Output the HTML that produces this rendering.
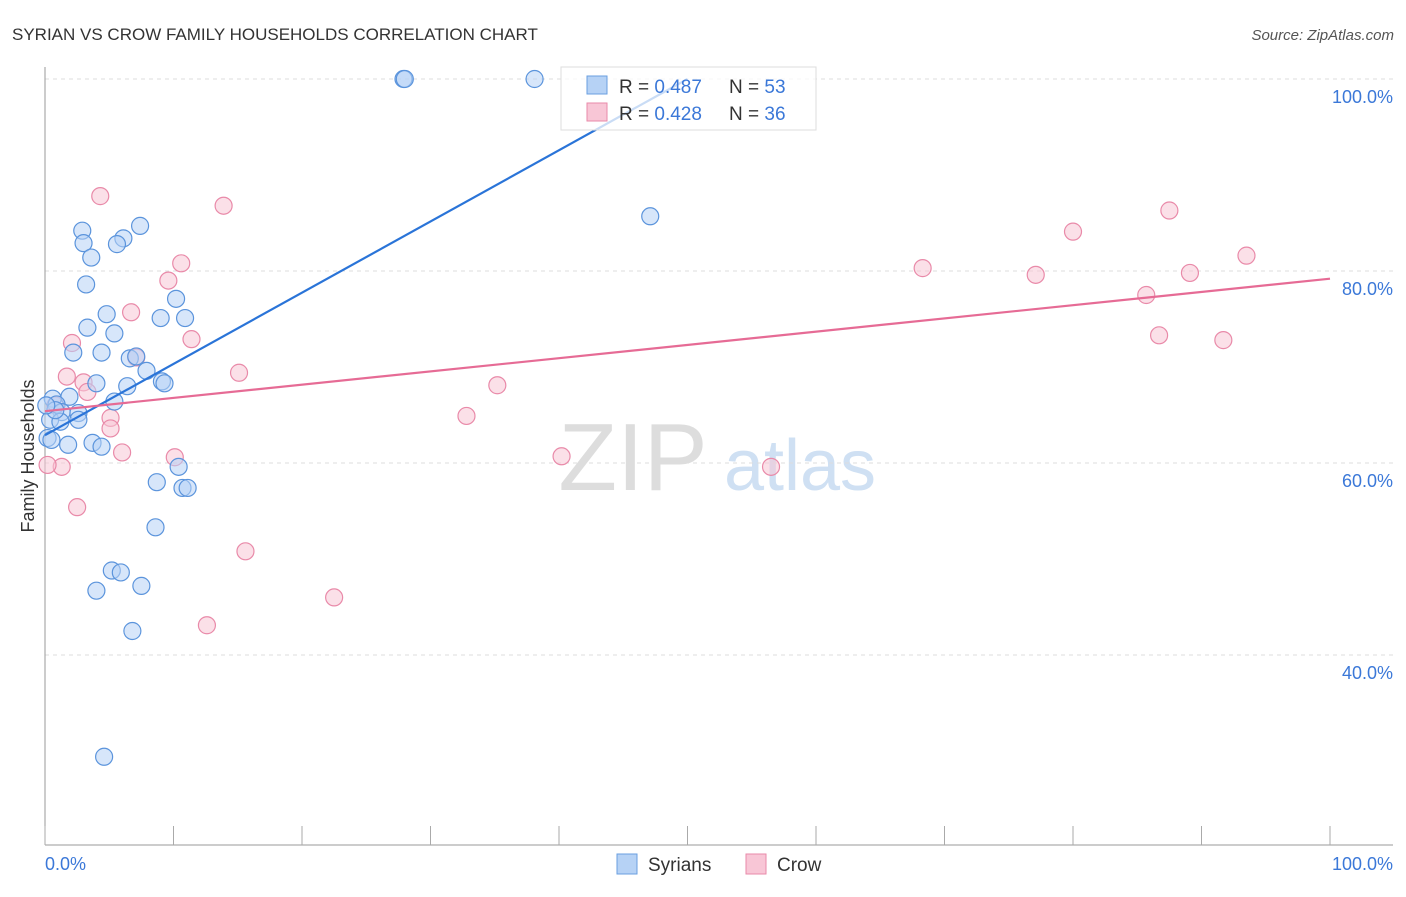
<!DOCTYPE html>
<html><head><meta charset="utf-8"><style>
body{margin:0;background:#fff;font-family:"Liberation Sans",sans-serif;}
svg text{font-family:"Liberation Sans",sans-serif;}
</style></head><body>
<svg id="c" width="1406" height="892">
<text x="12" y="40" font-size="17" fill="#333">SYRIAN VS CROW FAMILY HOUSEHOLDS CORRELATION CHART</text>
<text x="1394" y="40" font-size="15" fill="#555" font-style="italic" text-anchor="end">Source: ZipAtlas.com</text>
<g><text x="633" y="490" font-size="96" font-family="Liberation Serif" fill="#ddd" text-anchor="middle">ZIP</text><text x="800" y="490" font-size="72" fill="#cfe0f3" text-anchor="middle">atlas</text></g>
<g id="grid"></g><g id="axes"></g><g id="marks"></g>
<text transform="translate(34,456) rotate(-90)" font-size="18" fill="#333" text-anchor="middle">Family Households</text>
<text x="45" y="870" font-size="18" fill="#3b78d8">0.0%</text>
<text x="1393" y="870" font-size="18" fill="#3b78d8" text-anchor="end">100.0%</text>
<g>
<rect x="561" y="67" width="255" height="63" fill="#fff" fill-opacity="0.75" stroke="#ddd"/>
<rect x="587" y="76" width="20" height="18" fill="#b6d2f5" stroke="#6a9fe0"/>
<text x="619" y="93" font-size="19" fill="#333">R = <tspan fill="#3b78d8">0.487</tspan><tspan x="729">N = </tspan><tspan fill="#3b78d8">53</tspan></text>
<rect x="587" y="103" width="20" height="18" fill="#f8c6d6" stroke="#e98aa9"/>
<text x="619" y="120" font-size="19" fill="#333">R = <tspan fill="#3b78d8">0.428</tspan><tspan x="729">N = </tspan><tspan fill="#3b78d8">36</tspan></text>
</g>
<g>
<rect x="617" y="854" width="20" height="20" fill="#b6d2f5" stroke="#6a9fe0"/><text x="648" y="871" font-size="19" fill="#333">Syrians</text>
<rect x="746" y="854" width="20" height="20" fill="#f8c6d6" stroke="#e98aa9"/><text x="777" y="871" font-size="19" fill="#333">Crow</text>
</g>
</svg>
<script>
const yTicks=[40,60,80,100];
const yTickLabels=["40.0%","60.0%","80.0%","100.0%"];
const xTicks=[0,10,20,30,40,50,60,70,80,90,100];
const syrX=[27.9,28.0,38.1,47.1,7.4,2.9,3.0,6.1,5.6,3.6,3.2,10.2,9.0,10.9,4.8,3.3,5.4,2.2,4.4,6.6,7.1,7.9,4.0,6.4,9.1,9.3,5.4,1.9,0.6,0.9,1.3,2.6,0.4,1.2,2.6,0.2,1.8,3.7,4.4,10.4,8.7,10.7,11.1,8.6,5.2,5.9,4.0,7.5,6.8,4.6,0.5,0.8,0.1];
const syrY=[100,100,100,85.7,84.7,84.2,82.9,83.4,82.8,81.4,78.6,77.1,75.1,75.1,75.5,74.1,73.5,71.5,71.5,70.9,71.1,69.6,68.3,68.0,68.5,68.3,66.4,66.9,66.7,66.1,65.3,65.2,64.5,64.3,64.5,62.6,61.9,62.1,61.7,59.6,58.0,57.4,57.4,53.3,48.8,48.6,46.7,47.2,42.5,29.4,62.4,65.5,66.0];
const crowX=[4.3,13.9,10.6,9.6,6.7,11.4,2.1,7.1,15.1,1.7,3.0,3.3,5.1,5.1,6.0,10.1,1.3,0.2,2.5,15.6,22.5,12.6,32.8,35.2,40.2,56.5,68.3,77.1,80.0,87.5,85.7,89.1,93.5,86.7,91.7,0.8];
const crowY=[87.8,86.8,80.8,79.0,75.7,72.9,72.5,71.0,69.4,69.0,68.4,67.4,64.7,63.6,61.1,60.6,59.6,59.8,55.4,50.8,46.0,43.1,64.9,68.1,60.7,59.6,80.3,79.6,84.1,86.3,77.5,79.8,81.6,73.3,72.8,66.0];
const syrTrend=[0,62.9,50,100];
const crowTrend=[0,65.4,100,79.2];
const X=v=>45+v*12.85, Y=v=>79+(100-v)*9.6;
const NS="http://www.w3.org/2000/svg";
function mk(t,a,p){const e=document.createElementNS(NS,t);for(const k in a)e.setAttribute(k,a[k]);p.appendChild(e);return e;}
const grid=document.getElementById('grid'),axes=document.getElementById('axes'),marks=document.getElementById('marks');
yTicks.forEach((v,i)=>{
 const l=mk('line',{x1:45,x2:1393,y1:Y(v),y2:Y(v),stroke:'#ddd','stroke-dasharray':'4,4'},grid);
 
 
 const t=mk('text',{x:1393,y:Y(v)+24,'font-size':18,fill:'#3b78d8','text-anchor':'end'},grid);t.textContent=yTickLabels[i];
 
 
});
const ax=mk('line',{x1:45,x2:45,y1:67,y2:845,stroke:'#999'},axes);


const bx=mk('line',{x1:45,x2:1393,y1:845,y2:845,stroke:'#999'},axes);


xTicks.forEach(v=>{const t=mk('line',{x1:X(v),x2:X(v),y1:826,y2:845,stroke:'#aaa'},axes);
 
 });
function pts(xs,ys,f,s,n){xs.forEach((x,i)=>{const c=mk('circle',{cx:X(x),cy:Y(ys[i]),r:8.5,fill:f,'fill-opacity':0.55,stroke:s,'stroke-width':1.2},marks);
 
 });}
pts(crowX,crowY,'#f8c6d6','#e98aa9','crow-point');
pts(syrX,syrY,'#b6d2f5','#5b94dc','syrian-point');
const l1=mk('line',{x1:X(syrTrend[0]),y1:Y(syrTrend[1]),x2:X(syrTrend[2]),y2:Y(syrTrend[3]),stroke:'#2a74d8','stroke-width':2.2},marks);


const l2=mk('line',{x1:X(crowTrend[0]),y1:Y(crowTrend[1]),x2:X(crowTrend[2]),y2:Y(crowTrend[3]),stroke:'#e66b95','stroke-width':2.2},marks);


</script>
</body></html>
